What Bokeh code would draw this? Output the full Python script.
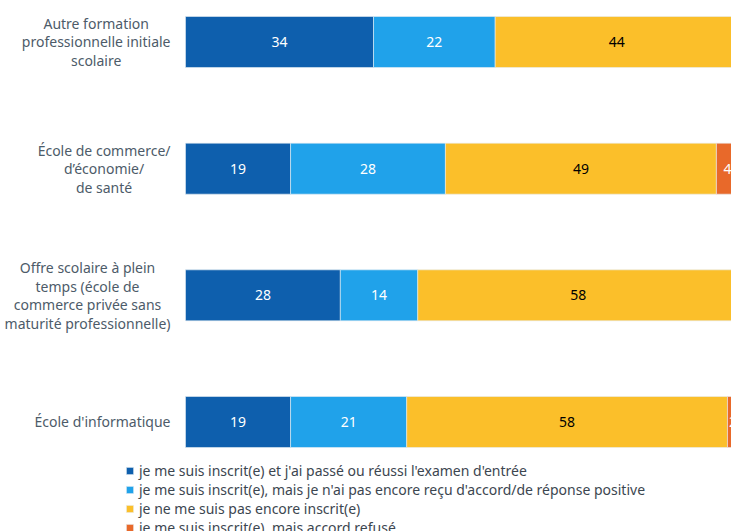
from bokeh.plotting import figure
from bokeh.models import ColumnDataSource, Range1d, Legend, LegendItem
from bokeh.core.properties import value
from bokeh.embed import file_html
from bokeh.resources import INLINE

categories = [
    "Autre formation\nprofessionnelle initiale\nscolaire",
    "École de commerce/\nd’économie/\nde santé",
    "Offre scolaire à plein\ntemps (école de\ncommerce privée sans\nmaturité professionnelle)",
    "École d'informatique",
]
series_names = [
    "je me suis inscrit(e) et j'ai passé ou réussi l'examen d'entrée",
    "je me suis inscrit(e), mais je n'ai pas encore reçu d'accord/de réponse positive",
    "je ne me suis pas encore inscrit(e)",
    "je me suis inscrit(e), mais accord refusé",
]
passed = [34, 19, 28, 19]
pending = [22, 28, 14, 21]
not_yet = [44, 49, 58, 58]
refused = [0, 4, 0, 2]
series = [passed, pending, not_yet, refused]
colors = ["#0E5FAD", "#20A2EA", "#FBBF2A", "#E8692A"]
label_colors = ["white", "white", "black", "white"]

FONT = "Noto Sans"

p = figure(width=731, height=531, output_backend="svg", toolbar_location=None,
           x_range=Range1d(-33.45, 98.73), y_range=Range1d(3.8645, -0.3276),
           min_border=0, min_border_left=0, min_border_right=0,
           min_border_top=0, min_border_bottom=0)
p.axis.visible = False
p.grid.visible = False
p.outline_line_color = None
p.background_fill_color = "white"

ypos = list(range(len(categories)))
left = [0] * len(categories)
legend_items = []
for i, vals in enumerate(series):
    right = [l + v for l, v in zip(left, vals)]
    src = ColumnDataSource(dict(y=ypos, left=left, right=right,
                                mid=[(l + r) / 2 for l, r in zip(left, right)],
                                lab=[str(v) if v > 0 else "" for v in vals]))
    r = p.hbar(y="y", left="left", right="right", height=0.4026, source=src,
               fill_color=colors[i], line_color="#e8eef4", line_width=0.6)
    legend_items.append(LegendItem(label=series_names[i], renderers=[r]))
    p.text(x="mid", y="y", text="lab", source=src, text_align="center",
           text_baseline="middle", text_color=label_colors[i],
           text_font=value(FONT), text_font_size="14px")
    left = right

p.text(x=[-2.71] * len(categories), y=ypos, text=categories, text_align="center",
       anchor="center_right", text_baseline="middle", text_color="#4D5B69",
       text_font=value(FONT), text_font_size="14px", text_line_height=0.98)

legend = Legend(items=legend_items, location=(125, -6), orientation="vertical",
                label_text_font=FONT, label_text_font_size="14px",
                label_text_color="#3C4650", glyph_width=9, glyph_height=9,
                label_height=18, spacing=0, padding=0, margin=0,
                label_standoff=5, border_line_color=None,
                background_fill_alpha=0)
p.add_layout(legend, "center")

open("out.html", "w").write(file_html(p, INLINE))
